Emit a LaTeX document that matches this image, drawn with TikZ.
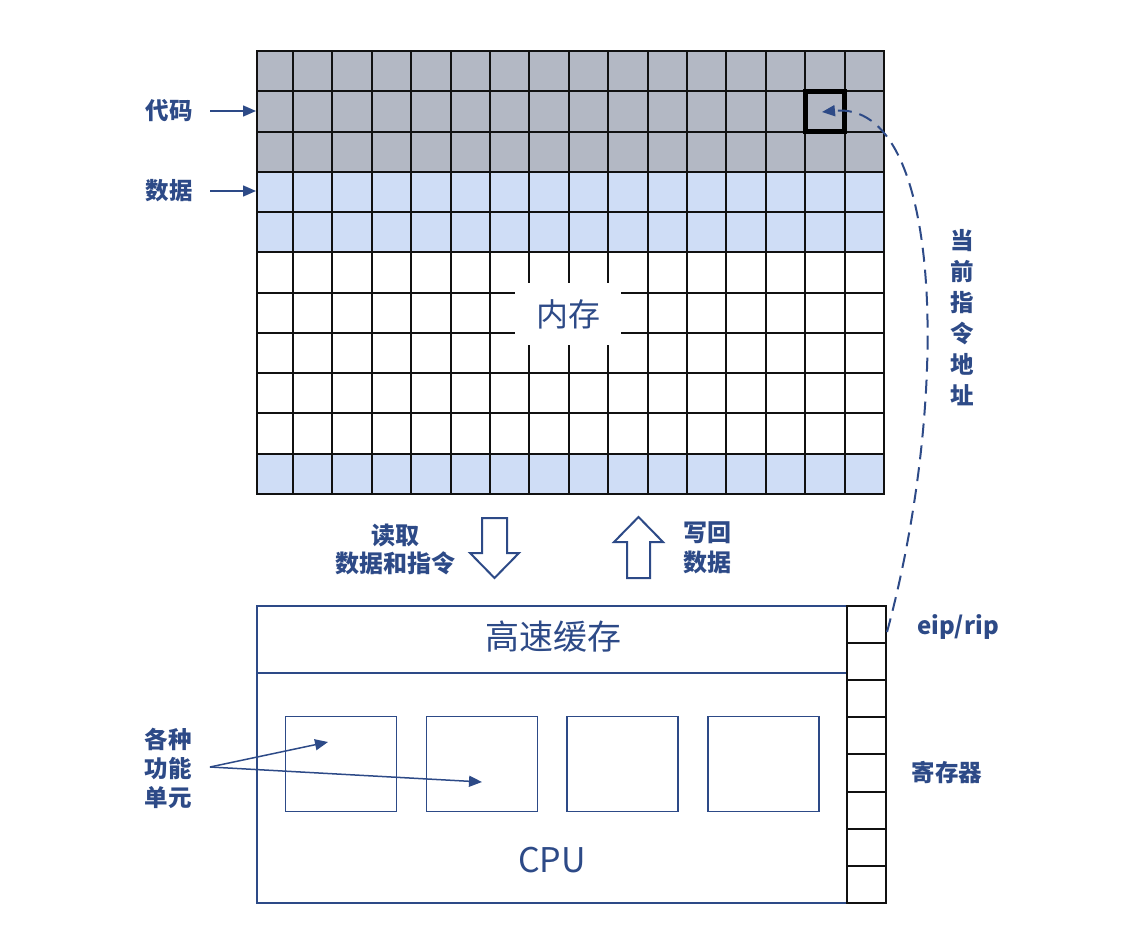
\documentclass[tikz,border=0pt]{standalone}
\usepackage{fontspec}
\newfontfamily\cjk{Noto Sans CJK SC}
\usetikzlibrary{arrows.meta}
\definecolor{ink}{HTML}{2D4A87}
\definecolor{codegray}{HTML}{B3B8C4}
\definecolor{datablue}{HTML}{CFDDF6}
\definecolor{gridline}{HTML}{111111}
\tikzset{
  lbl/.style={text=ink, font=\cjk\bfseries\fontsize{23.5}{29}\selectfont, align=center, inner sep=0pt},
  big/.style={text=ink, font=\cjk\fontsize{32}{36}\selectfont, inner sep=0pt},
  ptr/.style={draw=ink, line width=1.5pt, -{Triangle[length=13pt,width=11pt]}},
  unitbox/.style={draw=ink, line width=1.3pt, minimum width=111pt, minimum height=95pt, inner sep=0pt},
  regcell/.style={draw=gridline, line width=2pt, minimum width=39pt, minimum height=37.1pt, inner sep=0pt},
  blockarrow/.style={draw=ink, line width=2pt, fill=white, line join=miter},
}
\begin{document}
\begin{tikzpicture}[x=1pt,y=-1pt]
\useasboundingbox (0,0) rectangle (1132,950);
% memory fills
\fill[codegray] (257,51) rectangle (884,171.8);
\fill[datablue] (257,171.8) rectangle (884,252.35);
\fill[datablue] (257,453.7) rectangle (884,494);
% grid lines
\draw[gridline, line width=2pt] (257,51) -- (257,494);
\foreach \i in {0,...,15} {
  \pgfmathsetmacro{\xx}{293+\i*39.4}
  \draw[gridline, line width=2pt] (\xx,51) -- (\xx,494);
}
\foreach \j in {0,...,11} {
  \pgfmathsetmacro{\yy}{51+\j*40.27}
  \draw[gridline, line width=2pt] (256,\yy) -- (885,\yy);
}
% current instruction cell
\node[draw=black, line width=5pt, minimum width=39.4pt, minimum height=40.27pt, inner sep=0pt] (cur) at (825,111.4) {};
% memory label
\node[fill=white, minimum width=106pt, minimum height=62pt, big] (mem) at (568,314) {内存};
% left labels
\node[lbl] (code) at (169,111) {代码};
\node[lbl] (data) at (169,191) {数据};
\coordinate (codeA) at (210,111);
\coordinate (codeB) at (256,111);
\coordinate (dataA) at (210,191);
\coordinate (dataB) at (256,191);
\draw[ptr] (codeA) -- (codeB);
\draw[ptr] (dataA) -- (dataB);
% block arrows
\draw[blockarrow] (482,518) -- (507,518) -- (507,553) -- (519,553) -- (494.5,578) -- (470,553) -- (482,553) -- cycle;
\draw[blockarrow] (627,578) -- (650,578) -- (650,542) -- (663,542) -- (638.5,517) -- (614,542) -- (627,542) -- cycle;
\node[lbl, font=\cjk\bfseries\fontsize{24}{28}\selectfont] (read) at (395,549) {读取\\数据和指令};
\node[lbl, font=\cjk\bfseries\fontsize{24}{30}\selectfont] (write) at (707,548) {写回\\数据};
% CPU
\node[draw=ink, line width=1.5pt, minimum width=590pt, minimum height=297pt, inner sep=0pt] (cpu) at (552,754.5) {};
\draw[draw=ink, line width=1.5pt] (cpu.west |- 0,673) -- (cpu.east |- 0,673);
\node[big, font=\cjk\fontsize{34}{36}\selectfont] (cache) at (553,637) {高速缓存};
\node[big, font=\cjk\fontsize{34}{36}\selectfont] (cpulbl) at (552,860) {CPU};
\node[unitbox] (u1) at (341,764) {};
\node[unitbox] (u2) at (482,764) {};
\node[unitbox] (u3) at (622.5,764) {};
\node[unitbox] (u4) at (763.5,764) {};
% registers
\foreach \j in {0,...,7} {
  \pgfmathsetmacro{\yy}{624.55+\j*37.1}
  \node[regcell] (reg\j) at (866.5,\yy) {};
}
\node[lbl, font=\cjk\bfseries\fontsize{24}{26}\selectfont] (eip) at (958,627) {eip/rip};
\node[lbl] (regs) at (947,773) {寄存器};
% functional units label
\node[lbl] (fulbl) at (168,768) {各种\\功能\\单元};
\coordinate (fu) at (210,767);
\coordinate (fuA) at (328,742);
\coordinate (fuB) at (482,782);
\draw[ptr] (fu) -- (fuA);
\draw[ptr] (fu) -- (fuB);
% current instruction address
\node[lbl, font=\cjk\bfseries\fontsize{23.5}{31}\selectfont] (addr) at (962,318) {当\\前\\指\\令\\地\\址};
\coordinate (pcStart) at (887,632);
\coordinate (pcEnd) at (822,112);
\draw[ptr, line width=2pt, dash pattern=on 14pt off 8pt] (pcStart) .. controls (950,400) and (945,100) .. (pcEnd);
\end{tikzpicture}
\end{document}
